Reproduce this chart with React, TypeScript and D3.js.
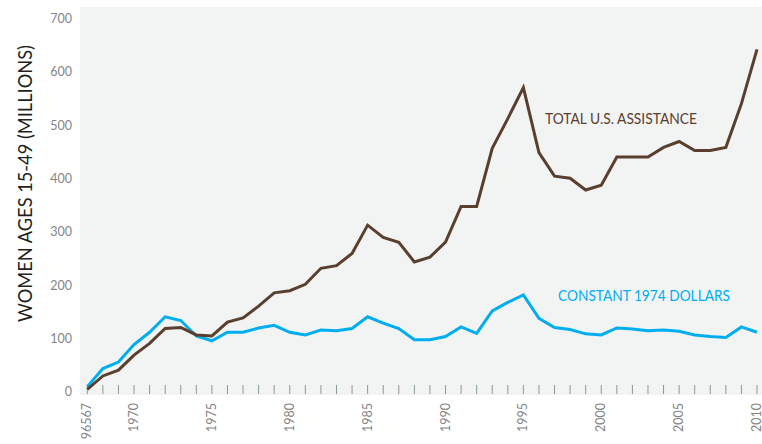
import React from 'react';
import * as d3 from 'd3';

// years 1967..2010 (first tick labelled as 1965-67 in the source)
const years = d3.range(1967, 2011);

const totalAssistance = [
  7, 32, 43, 71, 93, 121, 123, 109, 107, 133, 141, 163, 188, 192, 204, 234, 239, 262, 315, 292, 283, 246,
  255, 283, 350, 350, 459, 515, 573, 451, 407, 403, 381, 390, 443, 443, 443, 461, 472, 455, 455, 461, 543, 645,
];

const constant1974 = [
  12, 46, 58, 91, 114, 143, 136, 107, 98, 114, 114, 122, 127, 114, 109, 118, 117, 121, 143, 131, 121, 100,
  100, 106, 124, 112, 154, 170, 184, 140, 123, 119, 111, 109, 122, 120, 117, 118, 116, 109, 106, 104, 124, 114,
];

const yTicks = [0, 100, 200, 300, 400, 500, 600, 700];
const xLabels: [number, string][] = [
  [1967, '96567'],
  [1970, '1970'],
  [1975, '1975'],
  [1980, '1980'],
  [1985, '1985'],
  [1990, '1990'],
  [1995, '1995'],
  [2000, '2000'],
  [2005, '2005'],
  [2010, '2010'],
];

const W = 762;
const H = 444;
const plot = { left: 80, right: 762, top: 7, bottom: 395 };
const FONT = 'Lato, "Open Sans", sans-serif';
const BROWN = '#5a3f2f';
const BLUE = '#00aeef';

export default function App() {
  const x = d3.scaleLinear().domain([1967, 2010]).range([87.3, 757]);
  const y = d3.scaleLinear().domain([0, 700]).range([393, 20]);

  const line = d3
    .line<number>()
    .x((_, i) => x(years[i]))
    .y((d) => y(d));

  return (
    <svg
      width={W}
      height={H}
      style={{ position: 'absolute', left: 0, top: 0, background: '#fff' }}
      fontFamily={FONT}
    >
      <rect
        x={plot.left}
        y={plot.top}
        width={plot.right - plot.left}
        height={plot.bottom - plot.top}
        fill="#f2f4f4"
      />

      {/* year ticks */}
      {years.map((yr) => (
        <line key={yr} x1={x(yr)} x2={x(yr)} y1={385} y2={394} stroke="#8a9898" strokeWidth={1} />
      ))}

      {/* y labels */}
      {yTicks.map((t) => (
        <text
          key={t}
          x={72}
          y={y(t)}
          textAnchor="end"
          dominantBaseline="middle"
          fontSize={12.5}
          fill="#858585"
        >
          {t}
        </text>
      ))}

      {/* x labels */}
      {xLabels.map(([yr, lab]) => (
        <text
          key={yr}
          transform={`translate(${x(yr) + 4},403) rotate(-90)`}
          textAnchor="end"
          fontSize={12.5}
          fill="#858585"
        >
          {lab}
        </text>
      ))}

      <text
        transform="translate(32,183.5) rotate(-90)"
        textAnchor="middle"
        fontSize={19.5}
        fill="#231f20"
        textLength={277}
        lengthAdjust="spacingAndGlyphs"
      >
        WOMEN AGES 15-49 (MILLIONS)
      </text>

      <path d={line(constant1974) || ''} fill="none" stroke={BLUE} strokeWidth={3} strokeLinejoin="miter" />
      <path d={line(totalAssistance) || ''} fill="none" stroke={BROWN} strokeWidth={3} strokeLinejoin="miter" />

      <text x={545} y={124} fontSize={15} fill={BROWN} textLength={152} lengthAdjust="spacingAndGlyphs">
        TOTAL U.S. ASSISTANCE
      </text>
      <text x={558} y={301} fontSize={15} fill={BLUE} textLength={172} lengthAdjust="spacingAndGlyphs">
        CONSTANT 1974 DOLLARS
      </text>
    </svg>
  );
}
